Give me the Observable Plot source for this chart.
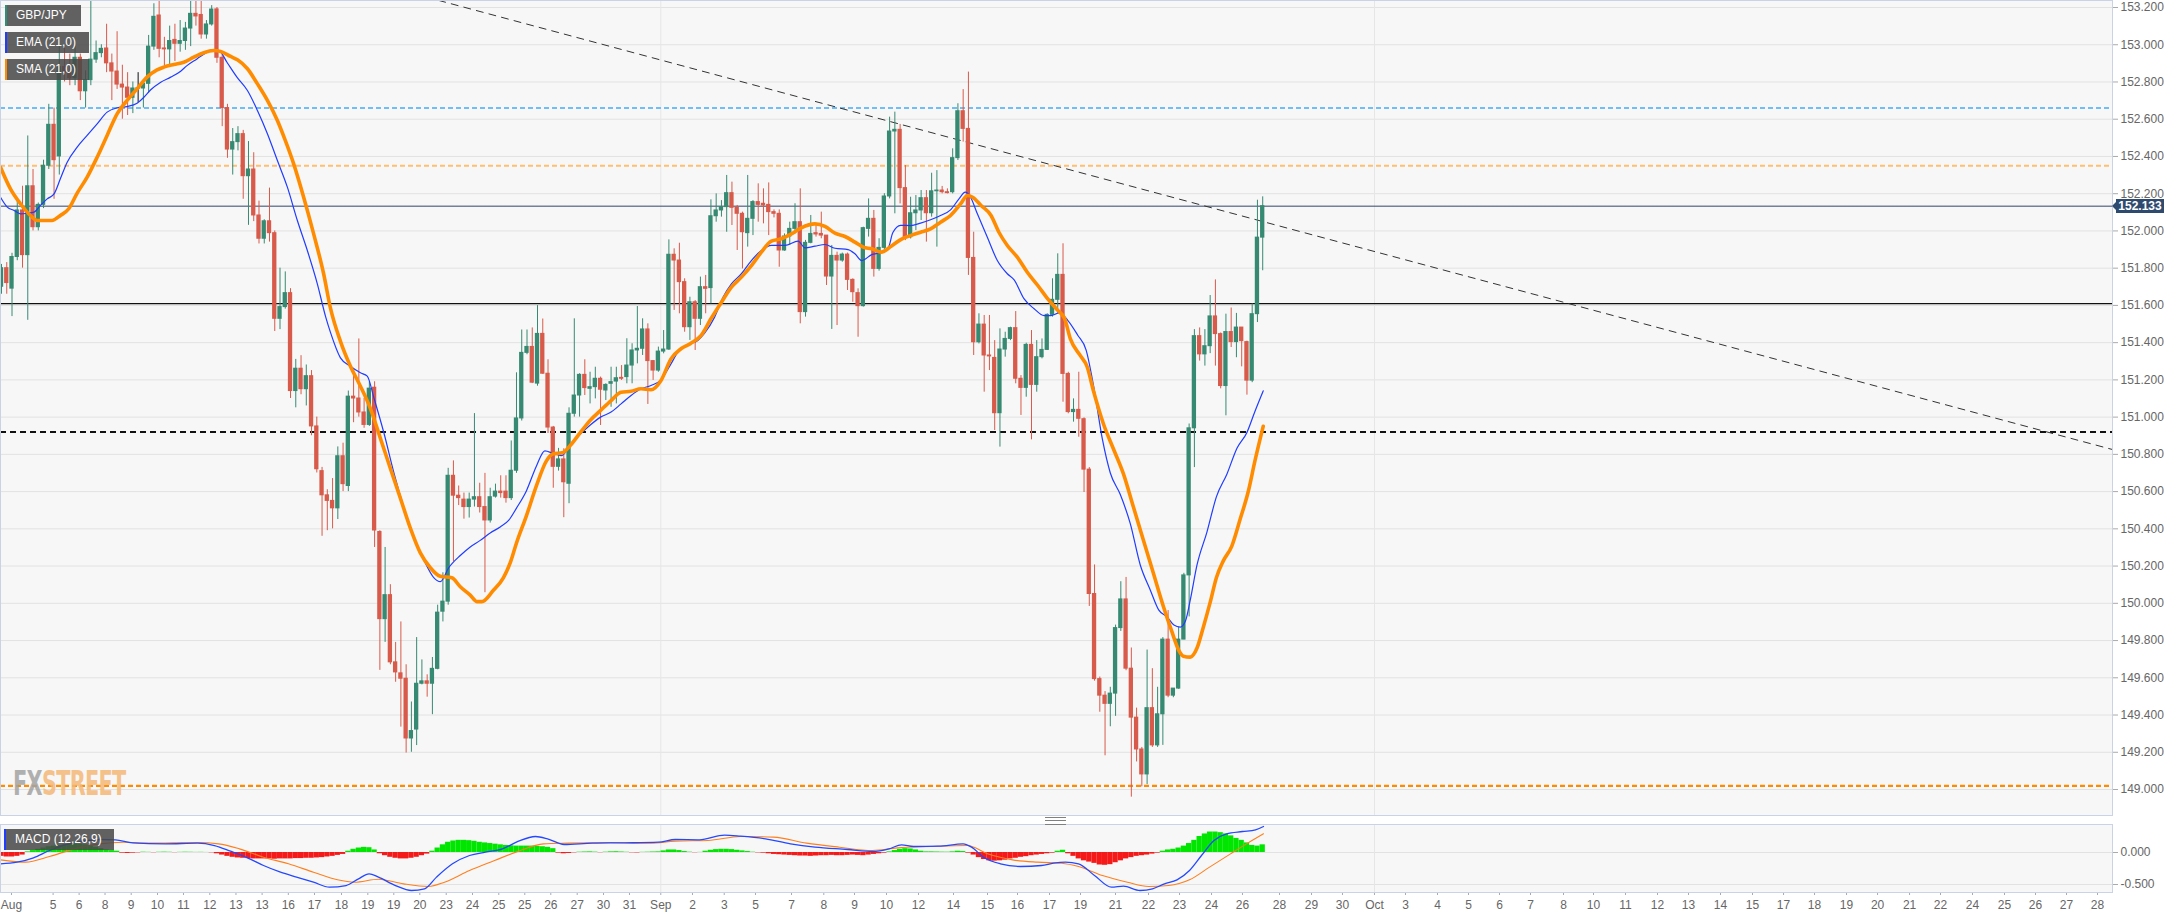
<!DOCTYPE html>
<html>
<head>
<meta charset="utf-8">
<script src="https://cdn.jsdelivr.net/npm/d3@7"></script>
<script src="https://cdn.jsdelivr.net/npm/@observablehq/plot@0.6"></script>
<style>
  html, body { margin:0; padding:0; background:#ffffff; }
  #wrap { position:relative; width:2183px; height:918px; overflow:hidden; font-family:"Liberation Sans", Arial, sans-serif; }
  #wrap svg { position:absolute; left:0; }
  .lbl { position:absolute; left:5px; height:21px; line-height:21px; box-sizing:border-box; padding-left:9px; color:#fff; font-size:12px; background:rgba(72,72,72,0.86); border-left:2px solid; white-space:nowrap; }
  .wm { position:absolute; left:13px; top:766px; font-family:"Liberation Sans Narrow","DejaVu Sans Condensed",sans-serif; font-weight:bold; font-size:34px; letter-spacing:-1px; line-height:34px; transform:scaleX(0.68); transform-origin:0 0; opacity:0.85; white-space:nowrap; }
  .tag { position:absolute; left:2116px; width:48px; height:14px; line-height:14px; background:#2e4a6e; color:#fff; font-weight:bold; font-size:12px; text-align:center; }
  .tag:before { content:""; position:absolute; left:-4px; top:3px; border-right:4px solid #2e4a6e; border-top:4px solid transparent; border-bottom:4px solid transparent; }
  .menu { position:absolute; left:1045px; top:817px; width:21px; height:6px; border-top:1px solid #808080; border-bottom:1px solid #808080; }
  .menu:after { content:""; position:absolute; left:0; right:0; top:2px; border-top:1px solid #808080; }
</style>
</head>
<body>
<div id="wrap"></div>
<script>
// ---------- GBP/JPY 4H candles (index 0 = left edge, Aug 2) ----------
const open = [
151.70,151.80,151.69,151.86,152.11,151.87,152.24,152.02,152.14,152.35,
152.57,152.40,152.88,152.85,152.82,152.93,152.75,152.81,152.92,152.955,
152.98,152.90,152.856,152.786,152.77,152.715,152.765,152.765,152.79,152.99,
153.157,152.98,152.975,153.026,153.005,153.02,153.087,153.166,153.16,153.055,
153.109,153.19,152.93,152.66,152.437,152.477,152.52,152.294,152.33,152.083,
151.958,152.052,151.988,151.528,151.591,151.666,151.14,151.26,151.15,151.22,
150.95,150.71,150.58,150.55,150.51,150.79,150.63,151.11,151.10,151.025,
150.958,151.158,150.383,149.915,150.044,149.683,149.624,149.595,149.274,149.322,
149.568,149.581,149.568,149.648,149.955,150.009,150.685,150.578,150.557,150.517,
150.557,150.570,150.517,150.445,150.573,150.600,150.600,150.565,150.712,150.993,
151.345,151.377,151.18,151.447,151.233,150.944,150.733,150.773,150.642,151.018,
151.116,151.227,151.152,151.161,151.206,151.143,151.179,151.191,151.211,151.215,
151.277,151.358,151.367,151.471,151.301,151.250,151.352,151.363,151.872,151.841,
151.725,151.483,151.617,151.528,151.698,151.693,152.079,152.110,152.128,152.203,
152.124,152.092,151.988,152.065,152.155,152.146,152.14,152.101,152.092,151.895,
151.970,152.011,152.047,151.564,151.936,151.988,151.984,151.975,151.755,151.866,
151.841,151.873,151.737,151.666,151.596,152.011,152.065,151.796,151.909,152.185,
152.534,152.543,152.230,151.966,152.095,152.110,152.176,152.095,152.213,152.217,
152.208,152.208,152.391,152.643,152.548,151.855,151.402,151.497,151.331,151.318,
151.021,151.363,151.420,151.478,151.206,151.157,151.388,151.173,151.322,151.361,
151.549,151.630,151.764,151.232,151.027,151.039,150.989,150.718,150.050,149.593,
149.504,149.460,149.515,149.867,150.021,149.649,149.386,149.215,149.081,149.437,
149.237,149.404,149.805,149.504,149.542,149.805,150.150,150.940,151.435,151.337,
151.381,151.541,151.446,151.167,151.457,151.403,151.481,151.403,151.196,151.553,
151.964];
const high = [
151.82,151.83,151.88,152.17,152.24,152.51,152.33,152.15,152.38,152.68,
152.66,152.99,152.98,152.95,152.99,152.95,152.86,153.24,153.02,153.00,
153.11,152.95,153.07,152.89,152.85,152.80,152.85,152.80,153.05,153.22,
153.24,153.04,153.10,153.11,153.13,153.12,153.24,153.24,153.24,153.13,
153.21,153.20,152.96,152.68,152.55,152.56,152.54,152.48,152.42,152.16,
152.06,152.23,152.00,151.80,151.78,151.69,151.31,151.33,151.28,151.25,
151.00,150.73,150.61,150.67,150.84,150.86,151.14,151.26,151.42,151.10,
151.19,151.19,150.39,150.30,150.10,149.79,149.90,149.67,149.47,149.816,
149.696,149.616,149.709,149.99,150.164,150.725,150.765,150.63,150.592,150.592,
151.019,150.645,150.698,150.618,150.640,150.685,150.685,150.872,151.238,151.468,
151.468,151.479,151.599,151.527,151.308,150.95,150.832,150.83,151.05,151.528,
151.233,151.308,151.241,151.268,151.215,151.179,151.268,151.268,151.277,151.421,
151.394,151.594,151.528,151.501,151.304,151.376,151.465,151.952,151.904,151.934,
151.743,151.644,151.626,151.752,151.761,152.167,152.199,152.163,152.298,152.262,
152.137,152.101,152.298,152.163,152.253,152.226,152.258,152.113,152.113,151.984,
152.047,152.146,152.226,151.949,152.083,152.029,152.101,151.975,151.922,151.886,
151.881,151.881,151.743,151.689,152.02,152.172,152.11,151.958,152.20,152.611,
152.638,152.572,152.351,152.181,152.190,152.217,152.217,152.310,152.324,152.239,
152.226,152.441,152.683,152.759,152.853,151.993,151.555,151.546,151.546,151.411,
151.474,151.456,151.483,151.567,151.223,151.397,151.465,151.411,151.420,151.555,
151.743,151.877,151.931,151.241,151.098,151.241,150.996,150.729,150.206,149.604,
149.526,149.549,149.883,150.116,150.139,149.760,149.437,149.226,149.749,149.649,
149.549,149.816,149.961,149.542,149.872,150.161,150.963,151.470,151.479,151.470,
151.653,151.737,151.452,151.553,151.586,151.557,151.481,151.408,151.608,152.165,
152.183];
const low = [
151.66,151.66,151.54,151.84,151.80,151.52,152.00,152.00,152.12,152.33,
152.17,152.30,152.80,152.78,152.78,152.70,152.66,152.78,152.90,152.93,
152.85,152.70,152.76,152.60,152.62,152.63,152.69,152.66,152.74,152.97,
152.93,152.88,152.88,152.91,152.96,152.97,152.99,153.10,153.03,153.03,
153.10,152.90,152.56,152.39,152.30,152.43,152.17,152.03,152.05,151.93,
151.93,151.94,151.46,151.47,151.58,151.10,151.05,151.12,151.06,150.90,
150.70,150.36,150.39,150.40,150.45,150.60,150.60,150.97,151.00,150.94,
150.95,150.30,149.64,149.79,149.67,149.576,149.335,149.196,149.20,149.236,
149.562,149.496,149.402,149.643,149.90,149.99,150.223,150.525,150.452,150.458,
150.517,150.485,150.057,150.431,150.565,150.565,150.538,150.552,150.698,150.979,
151.335,151.18,151.166,151.23,150.912,150.618,150.71,150.46,150.535,151.0,
151.0,151.116,151.071,151.098,150.955,151.089,151.053,151.071,151.197,151.179,
151.179,151.286,151.331,151.068,151.197,151.241,151.340,151.358,151.573,151.555,
151.456,151.412,151.358,151.492,151.555,151.608,152.047,152.074,151.993,152.029,
151.895,151.796,151.913,151.975,152.047,152.038,151.975,152.07,151.805,151.891,
151.922,151.984,151.501,151.537,151.931,151.967,151.958,151.707,151.471,151.492,
151.832,151.680,151.617,151.429,151.591,151.967,151.752,151.784,151.891,152.172,
152.092,152.145,151.948,151.957,152.002,152.056,151.940,152.074,151.913,152.199,
152.199,152.199,152.378,152.477,151.761,151.331,151.393,151.134,151.250,150.928,
150.839,151.322,151.411,151.179,151.009,151.107,150.878,151.134,151.313,151.358,
151.537,151.555,151.080,151.018,150.973,150.892,150.595,149.983,149.582,149.415,
149.181,149.337,149.393,149.849,149.638,148.959,149.148,149.014,149.026,149.226,
149.226,149.237,149.493,149.493,149.538,149.805,149.927,150.729,151.301,151.274,
151.341,151.274,151.152,151.007,151.374,151.319,151.270,151.118,151.185,151.508,
151.786];
const close = [
151.80,151.72,151.86,152.11,151.87,152.24,152.02,152.14,152.35,152.57,
152.38,152.88,152.85,152.82,152.93,152.75,152.81,152.92,152.955,152.978,
152.90,152.856,152.786,152.77,152.715,152.765,152.765,152.79,152.99,153.15,
152.978,152.975,153.02,153.005,153.02,153.087,153.166,153.152,153.055,153.109,
153.189,152.93,152.66,152.437,152.477,152.52,152.294,152.33,152.083,151.958,
152.052,151.988,151.528,151.591,151.666,151.14,151.26,151.15,151.22,150.95,
150.72,150.58,150.55,150.51,150.79,150.64,151.11,151.10,151.025,150.958,
151.153,150.391,149.915,150.044,149.683,149.629,149.595,149.274,149.314,149.568,
149.581,149.568,149.648,149.95,150.009,150.685,150.578,150.565,150.517,150.557,
150.570,150.517,150.445,150.570,150.600,150.592,150.565,150.712,150.993,151.345,
151.377,151.185,151.447,151.233,150.944,150.733,150.773,150.65,151.018,151.116,
151.227,151.156,151.161,151.206,151.147,151.173,151.188,151.209,151.206,151.277,
151.358,151.367,151.471,151.301,151.250,151.352,151.363,151.872,151.841,151.725,
151.483,151.617,151.528,151.698,151.689,152.079,152.110,152.128,152.203,152.124,
152.092,151.993,152.065,152.155,152.14,152.137,152.101,152.092,151.895,151.970,
152.011,152.047,151.564,151.936,151.984,151.981,151.975,151.755,151.866,151.841,
151.873,151.737,151.671,151.596,152.015,152.065,151.796,151.909,152.185,152.534,
152.543,152.230,151.966,152.095,152.110,152.176,152.095,152.213,152.217,152.208,
152.203,152.391,152.643,152.548,151.855,151.402,151.497,151.331,151.326,151.021,
151.363,151.420,151.478,151.206,151.157,151.388,151.173,151.322,151.361,151.549,
151.630,151.764,151.232,151.027,151.039,150.991,150.718,150.050,149.593,149.504,
149.460,149.515,149.867,150.021,149.649,149.386,149.215,149.081,149.437,149.237,
149.404,149.805,149.504,149.542,149.805,150.150,150.940,151.435,151.337,151.381,
151.541,151.446,151.167,151.457,151.403,151.481,151.408,151.196,151.553,151.964,
152.133];

// ---------- indicators: [candle index, value] ----------
const smaPoints = [[-0.19,152.342],[1.7,152.226],[3.6,152.146],[5.5,152.083],[6.8,152.056],[8.1,152.056],[9.6,152.056],[11.2,152.083],[12.8,152.119],[14.4,152.203],[16.3,152.289],[18.2,152.396],[20.1,152.513],[22.0,152.629],[23.9,152.701],[25.8,152.763],[27.7,152.826],[29.6,152.865],[30.9,152.880],[32.8,152.894],[34.7,152.906],[36.6,152.933],[38.5,152.957],[40.4,152.969],[41.7,152.964],[43.6,152.937],[44.9,152.919],[46.8,152.871],[48.7,152.790],[50.6,152.701],[52.5,152.593],[54.0,152.486],[55.6,152.360],[57.5,152.181],[59.4,151.984],[61.3,151.77],[62.6,151.585],[64.5,151.407],[66.4,151.273],[68.3,151.166],[70.2,151.046],[72.1,150.886],[74.0,150.725],[75.9,150.565],[77.8,150.404],[79.7,150.271],[81.6,150.191],[83.5,150.145],[85.7,150.137],[87.3,150.089],[89.2,150.044],[90.5,150.009],[91.4,150.009],[93.6,150.070],[95.5,150.137],[96.8,150.217],[98.0,150.324],[99.9,150.471],[101.8,150.632],[103.7,150.765],[105.0,150.803],[106.7,150.808],[108.3,150.85],[110.2,150.919],[112.1,150.985],[114.0,151.036],[116.0,151.089],[117.9,151.134],[119.8,151.139],[121.7,151.152],[123.6,151.147],[125.5,151.197],[127.4,151.313],[129.3,151.367],[131.2,151.397],[133.1,151.438],[135.0,151.528],[137.0,151.617],[138.9,151.698],[140.8,151.752],[142.7,151.814],[144.6,151.886],[146.5,151.945],[148.4,151.958],[150.3,151.984],[152.2,152.017],[154.8,152.038],[156.7,152.024],[158.6,151.988],[160.5,151.970],[162.4,151.940],[164.0,151.913],[165.6,151.904],[167.4,151.886],[169.3,151.918],[171.2,151.955],[173.0,151.975],[174.9,151.993],[176.8,152.011],[178.7,152.047],[180.6,152.083],[182.5,152.145],[183.8,152.190],[184.8,152.181],[186.4,152.137],[188.3,152.083],[189.8,151.993],[191.4,151.922],[193.3,151.859],[195.2,151.778],[197.2,151.707],[199.1,151.635],[201.0,151.573],[202.3,151.53],[203.4,151.42],[205.3,151.33],[206.6,151.27],[207.8,151.14],[209.7,150.963],[211.6,150.829],[213.5,150.695],[215.4,150.517],[217.3,150.339],[219.2,150.161],[221.1,149.983],[222.7,149.849],[224.0,149.749],[224.9,149.716],[226.2,149.711],[227.5,149.760],[228.7,149.872],[230.0,150.005],[231.2,150.139],[232.5,150.228],[234.1,150.306],[235.7,150.451],[237.3,150.606],[238.5,150.762],[240.1,150.951]];
const emaPoints = [[-0.19,152.181],[1.1,152.128],[2.4,152.110],[3.6,152.092],[4.9,152.095],[6.2,152.101],[7.4,152.137],[8.7,152.172],[10.0,152.199],[11.2,152.280],[12.5,152.369],[14.4,152.450],[16.3,152.513],[18.2,152.575],[20.1,152.638],[22.0,152.661],[23.9,152.668],[25.8,152.686],[27.1,152.718],[28.4,152.758],[30.3,152.799],[32.2,152.826],[34.1,152.858],[35.3,152.888],[37.2,152.924],[39.1,152.960],[40.1,152.974],[41.4,152.969],[42.9,152.906],[44.8,152.826],[46.8,152.754],[48.7,152.647],[50.6,152.522],[52.5,152.378],[54.4,152.235],[56.3,152.056],[58.2,151.895],[60.1,151.716],[61.7,151.537],[62.6,151.455],[64.5,151.318],[66.4,151.273],[68.3,151.238],[69.6,151.220],[70.9,151.100],[72.8,150.912],[74.7,150.698],[76.6,150.511],[78.5,150.351],[80.4,150.231],[82.3,150.137],[83.5,150.116],[85.1,150.191],[87.3,150.257],[89.2,150.303],[91.1,150.338],[93.0,150.378],[94.9,150.410],[96.5,150.445],[98.0,150.511],[99.9,150.605],[101.8,150.738],[103.4,150.819],[105.0,150.805],[106.5,150.793],[108.3,150.851],[110.2,150.910],[112.1,150.959],[114.0,151.0],[116.0,151.027],[117.9,151.071],[119.8,151.116],[121.7,151.152],[123.6,151.170],[125.5,151.200],[127.4,151.286],[128.7,151.349],[130.6,151.390],[132.5,151.412],[133.8,151.451],[135.7,151.537],[137.3,151.644],[138.9,151.716],[140.8,151.770],[142.7,151.841],[144.6,151.895],[146.5,151.922],[149.1,151.922],[151.6,151.945],[152.9,151.909],[154.8,151.918],[156.7,151.927],[158.6,151.907],[161.1,151.900],[162.4,151.877],[163.7,151.841],[165.6,151.873],[167.4,151.885],[168.8,151.913],[169.6,151.99],[171.1,152.030],[173.0,152.029],[174.9,152.042],[176.8,152.060],[178.7,152.083],[180.6,152.113],[182.2,152.172],[183.4,152.208],[184.4,152.181],[185.7,152.092],[187.6,151.966],[189.5,151.841],[191.4,151.770],[192.7,151.737],[194.6,151.635],[196.5,151.582],[198.4,151.545],[199.7,151.545],[201.3,151.56],[202.9,151.52],[204.8,151.44],[206.4,151.36],[207.8,151.17],[209.5,150.88],[211.0,150.70],[212.9,150.584],[214.8,150.428],[216.7,150.206],[218.6,150.072],[220.2,149.965],[221.8,149.927],[223.1,149.883],[224.3,149.872],[225.3,149.905],[226.2,150.016],[227.5,150.206],[229.4,150.384],[231.2,150.573],[233.2,150.695],[235.1,150.833],[237.0,150.918],[238.5,151.029],[240.1,151.141]];
const macdPoints = [[-0.19,-0.177],[2.95,-0.151],[6.09,-0.083],[9.13,0.031],[12.37,0.125],[15.41,0.177],[18.65,0.203],[21.69,0.198],[24.93,0.151],[31.21,0.135],[37.30,0.146],[40.53,0.109],[43.58,0.021],[46.81,-0.083],[49.86,-0.203],[53.09,-0.307],[56.14,-0.385],[59.37,-0.464],[62.42,-0.542],[65.56,-0.516],[67.94,-0.411],[69.95,-0.333],[71.74,-0.385],[74.98,-0.516],[78.02,-0.594],[80.50,-0.568],[82.78,-0.385],[85.82,-0.177],[89.06,-0.047],[92.10,0.005],[95.34,0.057],[98.38,0.177],[101.62,0.250],[103.90,0.214],[107.06,0.125],[112.46,0.146],[118.74,0.151],[125.02,0.161],[128.26,0.203],[132.83,0.198],[137.58,0.271],[140.63,0.255],[145.39,0.214],[150.14,0.135],[154.80,0.083],[160.99,0.047],[165.75,0.016],[168.89,0.057],[171.27,0.120],[173.55,0.094],[178.31,0.099],[182.99,0.135],[184.59,0.083],[186.87,-0.073],[190.10,-0.177],[193.91,-0.219],[197.91,-0.203],[200.19,-0.167],[202.47,-0.151],[204.95,-0.177],[207.99,-0.359],[211.23,-0.542],[213.51,-0.526],[216.65,-0.594],[219.03,-0.568],[221.31,-0.490],[223.69,-0.427],[226.07,-0.281],[228.35,-0.047],[230.73,0.188],[233.11,0.292],[236.16,0.328],[238.63,0.354],[240.15,0.406]];
const signalPoints = [[-0.19,-0.115],[4.57,-0.151],[9.13,-0.063],[13.89,0.057],[18.65,0.135],[23.22,0.161],[27.97,0.146],[37.30,0.156],[41.29,0.135],[45.29,0.057],[49.86,-0.073],[54.61,-0.177],[59.37,-0.307],[63.94,-0.427],[67.17,-0.464],[71.74,-0.417],[76.50,-0.490],[81.26,-0.531],[84.30,-0.464],[89.06,-0.281],[93.82,-0.125],[98.38,0.021],[103.14,0.135],[107.90,0.146],[115.70,0.156],[123.50,0.146],[128.26,0.177],[134.44,0.188],[140.63,0.250],[146.91,0.240],[153.19,0.146],[159.47,0.083],[165.75,0.031],[170.50,0.073],[176.78,0.094],[183.82,0.109],[187.63,-0.021],[192.39,-0.115],[197.15,-0.151],[201.71,-0.167],[204.95,-0.219],[209.51,-0.359],[214.27,-0.464],[218.27,-0.531],[222.08,-0.516],[226.07,-0.427],[229.88,-0.229],[233.87,-0.021],[236.92,0.135],[240.15,0.292]];
const histogram = [
-0.06,-0.07,-0.07,-0.06,-0.04,
0.01,0.03,0.05,0.07,0.09,0.10,0.11,0.12,0.13,0.135,0.13,0.12,0.10,0.08,0.06,0.04,0.03,0.02,
-0.01,-0.015,-0.01,-0.005,
0.005,0.003,-0.003,0.004,0.006,0.004,-0.002,0.003,0.005,0.004,0.002,0.003,0.001,-0.004,
-0.02,-0.04,-0.06,-0.075,-0.085,-0.09,-0.095,-0.1,-0.1,-0.1,-0.1,-0.105,-0.1,-0.1,-0.1,-0.095,-0.095,-0.09,-0.09,-0.085,-0.08,-0.07,-0.06,-0.045,-0.03,
0.02,0.05,0.07,0.08,0.075,0.04,
-0.02,-0.05,-0.075,-0.09,-0.1,-0.1,-0.09,-0.075,-0.05,-0.025,
0.02,0.07,0.12,0.16,0.18,0.19,0.19,0.185,0.175,0.16,0.15,0.14,0.13,0.12,0.11,0.105,0.10,0.10,0.10,0.10,0.095,0.09,0.08,0.06,
-0.01,-0.02,-0.015,-0.005,
0.005,0.008,0.01,0.006,-0.003,0.005,0.01,0.012,0.008,0.004,-0.004,-0.006,0.003,0.005,0.008,0.01,
0.025,0.04,0.04,0.03,0.015,
0.005,-0.003,0.002,
0.02,0.035,0.045,0.05,0.05,0.045,0.035,0.025,0.015,0.005,
-0.005,
-0.01,-0.02,-0.03,-0.035,-0.04,-0.045,-0.05,-0.055,-0.055,-0.06,-0.055,-0.05,-0.05,-0.045,-0.05,-0.05,-0.045,-0.04,-0.045,-0.05,-0.04,-0.03,-0.02,-0.01,
0.01,0.03,0.05,0.06,0.055,0.04,0.02,0.01,0.01,0.008,0.006,0.005,0.01,
0.02,0.015,-0.01,
-0.04,-0.08,-0.11,-0.13,-0.135,-0.13,-0.12,-0.1,-0.09,-0.075,-0.065,-0.05,-0.04,-0.03,-0.02,-0.01,
0.02,0.035,
-0.02,-0.06,-0.1,-0.13,-0.15,-0.17,-0.195,-0.2,-0.19,-0.16,-0.13,-0.1,-0.08,-0.06,-0.05,-0.04,-0.025,-0.01,
0.02,0.04,0.05,0.07,0.1,0.14,0.19,0.25,0.29,0.32,0.32,0.31,0.29,0.26,0.22,0.19,0.15,0.11,0.10,0.12];

// ---------- analyst levels ----------
const lastPrice = 152.133;
const levelBlue = 152.66, levelOrangeHigh = 152.35, levelSupport = 151.61, levelDashed = 150.92, levelOrangeLow = 149.02;
const trendLine = [[83.2, 153.238], [401.7, 150.826]];

// ---------- axes ----------
const priceTicks = [149.0,149.2,149.4,149.6,149.8,150.0,150.2,150.4,150.6,150.8,151.0,151.2,151.4,151.6,151.8,152.0,152.2,152.4,152.6,152.8,153.0,153.2];
const macdTicks = [0, -0.5];
const tickLabels = ["Aug","5","6","8","9","10","11","12","13","13","16","17","18","19","19","20","23","24","25","25","26","27","30","31","Sep","2","3","5","7","8","9","10","12","14","15","16","17","19","21","22","23","24","26","28","29","30","Oct","3","4","5","6","7","8","10","11","12","13","14","15","17","18","19","20","21","22","24","25","26","27","28"];
const tickAt = [1.9,9.82,14.77,19.70,24.68,29.69,34.63,39.64,44.62,49.59,54.58,59.56,64.70,69.71,74.65,79.60,84.63,89.63,94.63,99.58,104.53,109.55,114.56,119.50,125.46,131.49,137.53,143.48,150.33,156.48,162.32,168.41,174.50,181.16,187.63,193.34,199.43,205.33,211.99,218.27,224.17,230.26,236.15,243.20,249.29,255.18,261.27,267.17,273.26,279.16,285.06,290.96,297.24,302.95,309.04,315.13,321.03,327.12,333.21,339.11,345.01,351.10,357.00,363.09,368.98,375.07,381.16,387.06,392.96,398.86];
const monthStarts = [125.46, 261.27];

const xDomain = [-0.19, 401.71];
const GREEN = "#378a72", RED = "#d85a4a";

const candles = open.map((o, i) => ({i, o, h: high[i], l: low[i], c: close[i]}));
const cColor = d => d.c > d.o ? GREEN : (d.c < d.o ? RED : "#111111");
const hist = histogram.map((v, i) => ({i, v}));
const labelAt = new Map(tickAt.map((t, k) => [t, tickLabels[k]]));
const fx = d => d[0], fy = d => d[1];

const baseStyle = {background: "transparent", fontFamily: "'Liberation Sans', Arial, sans-serif", fontSize: "12px", color: "#666666", overflow: "visible"};
const hasAxis = typeof Plot.axisX === "function";

const main = Plot.plot({
  width: 2183, height: 818,
  marginLeft: 0, marginRight: 71, marginTop: 0, marginBottom: 3,
  style: baseStyle,
  x: {domain: xDomain, axis: null, label: null},
  y: {domain: [148.8604, 153.2376], axis: null, label: null},
  marks: [
    Plot.frame({fill: "#f7f7f7", stroke: null}),
    Plot.ruleY(priceTicks, {stroke: "#e2e2e2"}),
    Plot.ruleX(monthStarts, {stroke: "#e6e6e6"}),
    Plot.ruleY([levelBlue], {stroke: "#6fbff6", strokeWidth: 2, strokeDasharray: "5,3"}),
    Plot.ruleY([levelOrangeHigh], {stroke: "#ffbf72", strokeWidth: 2, strokeDasharray: "5,3"}),
    Plot.ruleY([lastPrice], {stroke: "#2f456c", strokeWidth: 1}),
    Plot.ruleY([levelSupport], {stroke: "#111", strokeWidth: 1.2}),
    Plot.ruleY([levelDashed], {stroke: "#111", strokeWidth: 2, strokeDasharray: "6,4"}),
    Plot.ruleY([levelOrangeLow], {stroke: "#ff8c00", strokeWidth: 2.2, strokeDasharray: "5,3"}),
    Plot.line(trendLine, {x: fx, y: fy, stroke: "#333", strokeWidth: 1, strokeDasharray: "7,6"}),
    Plot.ruleX(candles, {x: "i", y1: "l", y2: "h", stroke: cColor, strokeWidth: 1}),
    Plot.rect(candles, {x1: d => d.i - 0.41, x2: d => d.i + 0.41, y1: d => Math.min(d.o, d.c), y2: d => Math.max(d.o, d.c), fill: cColor, insetTop: -0.5, insetBottom: -0.5}),
    Plot.line(emaPoints, {x: fx, y: fy, stroke: "#1f3cff", strokeWidth: 1.2, curve: "monotone-x"}),
    Plot.line(smaPoints, {x: fx, y: fy, stroke: "#ff8c00", strokeWidth: 3.6, curve: "monotone-x"}),
    hasAxis
      ? Plot.axisY(priceTicks, {anchor: "right", label: null, tickSize: 5, tickPadding: 3, tickFormat: d => d.toFixed(3), fontSize: 12, stroke: "#aaaaaa", fill: "#666666"})
      : Plot.text(priceTicks, {x: xDomain[1], y: d => d, text: d => d.toFixed(3), dx: 8, textAnchor: "start", fill: "#666"}),
    Plot.frame({stroke: "#cad2e5"})
  ]
});
main.style.top = "0px";

const lower = Plot.plot({
  width: 2183, height: 100,
  marginLeft: 0, marginRight: 71, marginTop: 6, marginBottom: 26,
  style: baseStyle,
  x: {domain: xDomain, axis: null, label: null},
  y: {domain: [-0.625, 0.4375], axis: null, label: null},
  marks: [
    Plot.frame({fill: "#f7f7f7", stroke: null}),
    Plot.ruleY(macdTicks, {stroke: "#e2e2e2"}),
    Plot.ruleX(monthStarts, {stroke: "#e6e6e6"}),
    Plot.rect(hist, {x1: d => d.i - 0.5, x2: d => d.i + 0.5, y1: 0, y2: d => d.v, fill: d => d.v >= 0 ? "#00e600" : "#f51a1a"}),
    Plot.line(signalPoints, {x: fx, y: fy, stroke: "#ff7f1e", strokeWidth: 1.1, curve: "monotone-x"}),
    Plot.line(macdPoints, {x: fx, y: fy, stroke: "#2448ff", strokeWidth: 1.3, curve: "monotone-x"}),
    hasAxis
      ? Plot.axisY(macdTicks, {anchor: "right", label: null, tickSize: 5, tickPadding: 3, tickFormat: d => d.toFixed(3), fontSize: 12, stroke: "#aaaaaa", fill: "#666666"})
      : Plot.text(macdTicks, {x: xDomain[1], y: d => d, text: d => d.toFixed(3), dx: 8, textAnchor: "start", fill: "#666"}),
    hasAxis
      ? Plot.axisX(tickAt, {anchor: "bottom", label: null, tickSize: 3, tickPadding: 5, tickFormat: d => labelAt.get(d), fontSize: 12, stroke: "#aaaaaa", fill: "#666666"})
      : Plot.text(tickAt, {x: d => d, frameAnchor: "bottom", dy: 14, text: d => labelAt.get(d), fill: "#666"}),
    Plot.frame({stroke: "#cad2e5"})
  ]
});
lower.style.top = "818px";

const wrap = document.getElementById("wrap");
wrap.appendChild(main);
wrap.appendChild(lower);

// overlays: indicator legend tags, watermark, last-price tag
function tag(text, top, width, color, left) {
  const d = document.createElement("div");
  d.className = "lbl";
  d.textContent = text;
  d.style.top = top + "px";
  d.style.width = width + "px";
  d.style.borderLeftColor = color;
  if (left != null) d.style.left = left + "px";
  wrap.appendChild(d);
}
tag("GBP/JPY", 5, 76, "#2f8f76");
tag("EMA (21,0)", 32, 84, "#1f3cff");
tag("SMA (21,0)", 59, 84, "#ff8c00");
tag("MACD (12,26,9)", 829, 110, "#1f3cff", 4);

const wm = document.createElement("div");
wm.className = "wm";
wm.innerHTML = '<span style="color:#a3a3a3">FX</span><span style="color:#f5b877">STREET</span>';
wrap.appendChild(wm);

const menu = document.createElement("div");
menu.className = "menu";
wrap.appendChild(menu);

const pt = document.createElement("div");
pt.className = "tag";
pt.textContent = lastPrice.toFixed(3);
pt.style.top = (main.scale("y").apply(lastPrice) - 7) + "px";
wrap.appendChild(pt);
</script>
</body>
</html>
